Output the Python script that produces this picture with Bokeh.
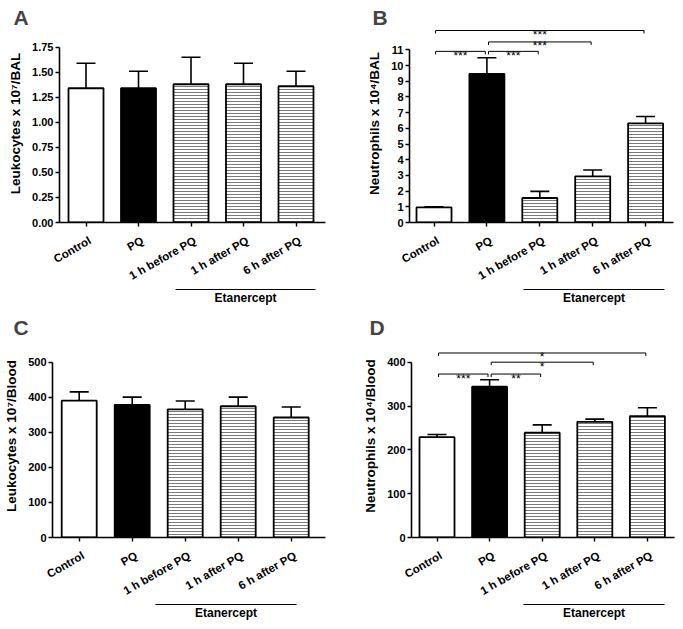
from bokeh.plotting import figure
from bokeh.layouts import column, row
from bokeh.models import FixedTicker, ColumnDataSource, Range1d, NumeralTickFormatter, LinearAxis
from bokeh.embed import file_html
from bokeh.resources import INLINE
from bokeh.core.properties import value

FONT = "Liberation Sans"

# ---------------- data ----------------
categories = ["Control", "PQ", "1 h before PQ", "1 h after PQ", "6 h after PQ"]

a_mean = [1.34, 1.34, 1.38, 1.38, 1.36]
a_err = [0.25, 0.17, 0.27, 0.21, 0.15]
a_ticks = [0.0, 0.25, 0.5, 0.75, 1.0, 1.25, 1.5, 1.75]

b_mean = [0.96, 9.47, 1.56, 2.94, 6.32]
b_err = [0.04, 1.02, 0.42, 0.40, 0.43]
b_ticks = [0, 1, 2, 3, 4, 5, 6, 7, 8, 9, 10, 11]
b_sig_pairs = [(0, 1), (1, 2), (1, 3), (0, 4)]
b_sig_level = [10.9, 10.9, 11.5, 12.23]
b_sig_text = ["***", "***", "***", "***"]

c_mean = [390, 378, 365, 374, 342]
c_err = [25, 22, 24, 26, 30]
c_ticks = [0, 100, 200, 300, 400, 500]

d_mean = [229, 344, 239, 264, 277]
d_err = [6, 16, 18, 6, 19]
d_ticks = [0, 100, 200, 300, 400]
d_sig_pairs = [(0, 1), (1, 2), (1, 3), (0, 4)]
d_sig_level = [373, 373, 400, 421]
d_sig_text = ["***", "**", "*", "*"]

group_label = "Etanercept"
bar_fill = ["white", "black", "white", "white", "white"]
bar_hatch = [" ", " ", "-", "-", "-"]


def make_panel(letter, ylabel, means, errs, yticks, yfmt, sig, lay):
    fx, fy, w, h = lay["fig"]
    fl, fr, ft, fb = lay["frame"]
    cx0, cdx = lay["cx0"], lay["cdx"]
    ymax = yticks[-1]
    ppy = (fb - lay["ytop"]) / ymax

    def px2x(px):
        return (px - cx0) / cdx

    def px2y(py):
        return (fb - py) / ppy

    p = figure(width=w, height=h, output_backend="svg", toolbar_location=None,
               x_range=Range1d(px2x(fl), px2x(fr)), y_range=Range1d(0, px2y(ft)),
               min_border_left=fl - fx, min_border_right=fx + w - fr,
               min_border_top=ft - fy, min_border_bottom=fy + h - fb)
    p.outline_line_color = None
    p.grid.visible = False
    p.background_fill_color = "white"
    p.border_fill_color = "white"

    # panel letter as title
    p.title.text = letter
    p.title.text_font = FONT
    p.title.text_font_style = "bold"
    p.title.text_font_size = "21px"
    p.title.align = "left"
    p.title.offset = lay["letter"][0] - fl
    p.title.standoff = -8

    xs = list(range(len(categories)))
    src = ColumnDataSource(dict(x=xs, top=means, fill=bar_fill, hatch=bar_hatch,
                                etop=[m + e for m, e in zip(means, errs)]))
    cap = 9.5 / cdx
    p.segment(x0="x", y0="top", x1="x", y1="etop", source=src, line_color="black", line_width=1.6)
    p.segment(x0=[x - cap for x in xs], y0=src.data["etop"], x1=[x + cap for x in xs],
              y1=src.data["etop"], line_color="black", line_width=1.6)
    p.vbar(x="x", top="top", bottom=0, width=35 / cdx, source=src, fill_color="fill",
           line_color="black", line_width=1.8, hatch_pattern="hatch", hatch_color="#7a7a7a",
           hatch_scale=3, hatch_weight=1)

    if sig is not None:
        pairs, levels, texts = sig
        d = 3 / ppy
        sh = 0.03
        bx, by, tx = [], [], []
        for (i, j), lv in zip(pairs, levels):
            x0, x1 = i + sh, j - sh
            bx.append([x0, x0, x1, x1])
            by.append([lv - d, lv, lv, lv - d])
            tx.append((x0 + x1) / 2)
        p.multi_line(xs=bx, ys=by, line_color="black", line_width=1)
        p.text(x=tx, y=levels, text=texts, text_font=value(FONT), text_font_size="12px",
               text_align="center", text_baseline="alphabetic", y_offset=4.5, text_color="black")

    # category axis: tick marks (minor) at bar centres, labels (major) nudged right a few px
    shift = round(4 / cdx, 3)
    lab_pos = [round(x + shift, 3) for x in xs]
    xa = p.xaxis[0]
    xa.ticker = FixedTicker(ticks=lab_pos, minor_ticks=xs)
    xa.major_label_overrides = {lp: c for lp, c in zip(lab_pos, categories)}
    xa.bounds = (px2x(fl), px2x(lay["xaxis_end"]))
    xa.major_label_orientation = 0.52
    xa.axis_line_width = 1.6
    xa.major_tick_line_color = None
    xa.major_tick_out = 4
    xa.major_tick_in = 0
    xa.minor_tick_line_color = "black"
    xa.minor_tick_line_width = 1.4
    xa.minor_tick_out = 4
    xa.minor_tick_in = 0
    xa.major_label_standoff = 13
    xa.major_label_text_font = FONT
    xa.major_label_text_font_style = "bold"
    xa.major_label_text_font_size = "11.5px"
    xa.major_label_text_color = "black"
    xa.axis_label = "\u00a0"
    xa.axis_label_text_font_size = "1px"
    xa.axis_label_standoff = -5

    # group axis (Etanercept line + label)
    ex0, ex1 = lay["etan"]
    gx0, gx1 = round(px2x(ex0), 3), round(px2x(ex1), 3)
    gc = round((gx0 + gx1) / 2, 3)
    ga = LinearAxis(ticker=FixedTicker(ticks=[gc]), major_label_overrides={gc: group_label},
                    bounds=(gx0, gx1))
    ga.axis_line_width = 1.2
    ga.major_tick_line_color = None
    ga.major_tick_out = 0
    ga.major_tick_in = 0
    ga.minor_tick_line_color = None
    ga.major_label_standoff = 1
    ga.major_label_text_font = FONT
    ga.major_label_text_font_style = "bold"
    ga.major_label_text_font_size = "12px"
    ga.major_label_text_color = "black"
    p.add_layout(ga, "below")

    ya = p.yaxis[0]
    ya.ticker = FixedTicker(ticks=yticks)
    ya.formatter = NumeralTickFormatter(format=yfmt)
    ya.bounds = (0, ymax)
    ya.axis_line_width = 1.6
    ya.major_tick_line_width = 1.4
    ya.major_tick_out = 4
    ya.major_tick_in = 0
    ya.minor_tick_line_color = None
    ya.major_label_standoff = 2
    ya.major_label_text_font = FONT
    ya.major_label_text_font_style = "bold"
    ya.major_label_text_font_size = "11px"
    ya.major_label_text_color = "black"
    ya.axis_label = ylabel
    ya.axis_label_standoff = 6
    ya.axis_label_text_font = FONT
    ya.axis_label_text_font_style = "bold"
    ya.axis_label_text_font_size = "13.5px"
    ya.axis_label_text_color = "black"
    return p


lay_a = dict(fig=(0, 0, 341, 310), frame=(59, 340, 24, 222), cx0=85.5, cdx=52.5, ytop=46.7,
             xaxis_end=325, etan=(175, 315), letter=(13, 28))
lay_b = dict(fig=(341, 0, 342, 310), frame=(409, 682, 24, 222), cx0=433.5, cdx=52.9, ytop=49.3,
             xaxis_end=673, etan=(523, 664), letter=(372, 28))
lay_c = dict(fig=(0, 310, 341, 319), frame=(52, 340, 334, 538), cx0=78.7, cdx=53.0, ytop=361.7,
             xaxis_end=325, etan=(155, 296), letter=(13, 337))
lay_d = dict(fig=(341, 310, 342, 319), frame=(411, 682, 334, 537), cx0=436.5, cdx=52.6, ytop=361.7,
             xaxis_end=674, etan=(523, 664), letter=(369, 337))

pA = make_panel("A", "Leukocytes x 10\u2077/BAL", a_mean, a_err, a_ticks, "0.00", None, lay_a)
pB = make_panel("B", "Neutrophils x 10\u2074/BAL", b_mean, b_err, b_ticks, "0",
                (b_sig_pairs, b_sig_level, b_sig_text), lay_b)
pC = make_panel("C", "Leukocytes x 10\u2077/Blood", c_mean, c_err, c_ticks, "0", None, lay_c)
pD = make_panel("D", "Neutrophils x 10\u2074/Blood", d_mean, d_err, d_ticks, "0",
                (d_sig_pairs, d_sig_level, d_sig_text), lay_d)

layout = column(row(pA, pB), row(pC, pD))
open("out.html", "w").write(file_html(layout, INLINE))
